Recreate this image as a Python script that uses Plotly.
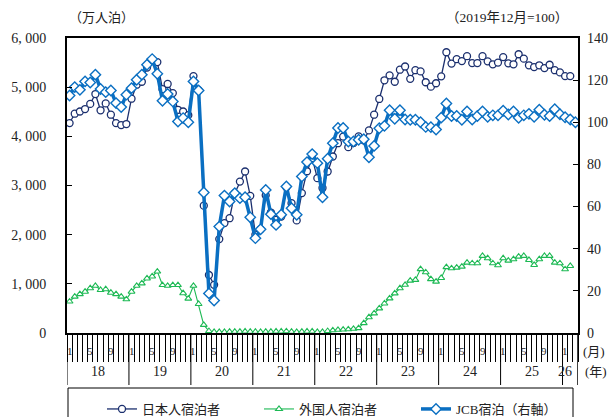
import plotly.graph_objects as go

# ---------------- data ----------------
start_year = 2018
years = ["18", "19", "20", "21", "22", "23", "24", "25", "26"]
month_labels = ["1", "5", "9"]

# 日本人宿泊者 (万人泊), 2018-01 .. 2026-02
jp = [4270, 4460, 4505, 4555, 4660, 4860, 4530, 4670, 4440, 4270, 4230, 4250,
      4765, 5050, 5110, 5400, 5550, 5510, 4960, 5065, 4880, 4540, 4505, 4430,
      5225, 4940, 2590, 1180, 980, 1910, 2235, 2335, 2845, 3080, 3285, 2790,
      2000, 2110, 2800, 2450, 2300, 2370, 2965, 2640, 2290, 2845, 3290, 3555,
      3150, 2950, 3285, 3590, 3860, 3995, 3780, 3865, 4000, 3920, 4120, 4440,
      4760, 5140, 5240, 5110, 5355, 5420, 5170, 5345, 5320, 5100, 5010, 5080,
      5220, 5710, 5480, 5570, 5530, 5630, 5490, 5490, 5630, 5525, 5465, 5500,
      5612, 5485, 5465, 5670, 5580, 5445, 5408, 5445, 5388, 5456, 5345, 5300,
      5225, 5225]

# 外国人宿泊者 (万人泊), 2018-01 .. 2026-02
fr = [640, 740, 790, 840, 910, 960, 875, 890, 820, 790, 740, 685,
      840, 960, 1010, 1110, 1150, 1250, 975, 960, 975, 975, 810, 700,
      960, 590, 165, 40, 20, 20, 20, 25, 25, 25, 30, 25,
      25, 20, 25, 25, 30, 30, 35, 25, 20, 25, 30, 30,
      20, 20, 40, 55, 65, 70, 75, 85, 100, 200, 320, 400,
      500, 600, 705, 805, 910, 980, 1065, 1080, 1300, 1235, 1095, 1045,
      1120, 1340, 1316, 1330, 1350, 1432, 1418, 1418, 1568, 1520, 1418, 1378,
      1520, 1473, 1500, 1554, 1568, 1486, 1384, 1500, 1568, 1568, 1432, 1418,
      1296, 1364]

# JCB宿泊 (2019年12月=100), 2018-01 .. 2026-03
jcb = [112.7, 116.7, 115.4, 119.4, 118.9, 122.6, 115.8, 114.3, 115.1, 109.1, 107.2, 113.1,
       116.2, 120.2, 122.6, 127.3, 130.0, 123.0, 110.2, 113.4, 109.9, 100.4, 102.0, 100.0,
       119.4, 115.1, 66.7, 18.8, 15.4, 50.5, 65.2, 62.4, 66.3, 64.0, 64.4, 54.9,
       45.0, 49.2, 67.9, 56.4, 51.3, 56.1, 69.5, 59.2, 56.1, 74.3, 81.1, 84.9,
       80.6, 64.4, 82.7, 90.1, 97.3, 97.3, 90.9, 90.9, 91.7, 92.0, 83.4, 88.8,
       97.2, 98.3, 105.7, 101.7, 105.7, 101.3, 101.2, 101.2, 100.0, 97.8, 97.7, 96.6,
       102.2, 108.9, 103.0, 103.0, 101.2, 105.1, 101.3, 103.0, 105.1, 102.6, 103.3, 103.3,
       105.5, 103.7, 105.1, 102.1, 103.3, 104.0, 102.6, 106.0, 103.6, 103.0, 106.2, 103.8,
       102.4, 101.3, 100.0]

left_ticks = [0, 1000, 2000, 3000, 4000, 5000, 6000]
left_ticktext = ["0", "1, 000", "2, 000", "3, 000", "4, 000", "5, 000", "6, 000"]
right_ticks = [0, 20, 40, 60, 80, 100, 120, 140]

names = ["日本人宿泊者", "外国人宿泊者", "JCB宿泊（右軸）"]

# ---------------- layout helpers ----------------
N_SLOTS = 99  # 2018-01 .. 2026-03
FONT = "Liberation Serif, Noto Sans CJK JP, serif"

NAVY = "#1b2f6e"
GREEN = "#1db954"
BLUE = "#0a6fc2"

def xs(n):
    return [i + 0.5 for i in range(n)]

fig = go.Figure()
fig.add_trace(go.Scatter(
    x=xs(len(jp)), y=jp, name=names[0], mode="lines+markers",
    line=dict(color=NAVY, width=1.3),
    marker=dict(symbol="circle", size=7, color="white", line=dict(color=NAVY, width=1.3)),
))
fig.add_trace(go.Scatter(
    x=xs(len(fr)), y=fr, name=names[1], mode="lines+markers",
    line=dict(color=GREEN, width=1.1),
    marker=dict(symbol="triangle-up", size=6, color="white", line=dict(color=GREEN, width=1.1)),
))
fig.add_trace(go.Scatter(
    x=xs(len(jcb)), y=jcb, name=names[2], mode="lines+markers", yaxis="y2",
    line=dict(color=BLUE, width=3.5),
    marker=dict(symbol="diamond", size=8, color="white", line=dict(color=BLUE, width=1.4)),
))

plot_h = 295.0
plot_w = 511.0

shapes = []
# year separators extending below axis
for i in range(0, 97, 12):
    shapes.append(dict(type="line", xref="x", yref="paper", x0=i, x1=i,
                       y0=0, y1=-52 / plot_h, line=dict(color="black", width=1)))
shapes.append(dict(type="line", xref="x", yref="paper", x0=N_SLOTS, x1=N_SLOTS,
                   y0=0, y1=-52 / plot_h, line=dict(color="black", width=1.5)))
# legend box
shapes.append(dict(type="rect", xref="paper", yref="paper",
                   x0=1 / plot_w, x1=506 / plot_w, y0=-55 / plot_h, y1=-95 / plot_h,
                   line=dict(color="black", width=1), fillcolor="rgba(0,0,0,0)"))

annotations = []
# month labels
for y_i in range(9):
    for ml in month_labels:
        idx = y_i * 12 + int(ml) - 1
        if idx >= N_SLOTS:
            continue
        annotations.append(dict(x=idx + 0.5, y=-18 / plot_h, xref="x", yref="paper",
                                text=ml, showarrow=False, xanchor="center", yanchor="middle",
                                font=dict(size=11, family=FONT, color="#222")))
# year labels
for y_i, yl in enumerate(years):
    cx = y_i * 12 + 6 if y_i < 8 else 96.5
    annotations.append(dict(x=cx, y=-38 / plot_h, xref="x", yref="paper",
                            text=yl, showarrow=False, xanchor="center", yanchor="middle",
                            font=dict(size=14, family=FONT, color="#222")))
annotations += [
    dict(x=1.0 + 3 / plot_w, y=-18 / plot_h, xref="paper", yref="paper", text="(月)",
         showarrow=False, xanchor="left", yanchor="middle", font=dict(size=13, family=FONT, color="#222")),
    dict(x=1.0 + 5 / plot_w, y=-38 / plot_h, xref="paper", yref="paper", text="(年)",
         showarrow=False, xanchor="left", yanchor="middle", font=dict(size=13, family=FONT, color="#222")),
    dict(x=0.0, y=1 + 21 / plot_h, xref="paper", yref="paper", text="（万人泊）",
         showarrow=False, xanchor="left", yanchor="middle", font=dict(size=13, family=FONT, color="#222")),
    dict(x=1.0 - 8 / plot_w, y=1 + 20 / plot_h, xref="paper", yref="paper", text="（2019年12月=100）",
         showarrow=False, xanchor="right", yanchor="middle", font=dict(size=13.5, family=FONT, color="#222")),
]

fig.update_layout(
    width=609, height=417,
    margin=dict(l=67, r=31, t=38, b=84, pad=0, autoexpand=False),
    paper_bgcolor="white", plot_bgcolor="white",
    font=dict(family=FONT, size=14, color="#222"),
    showlegend=True,
    legend=dict(orientation="h", x=35 / plot_w, y=-61 / plot_h, xanchor="left", yanchor="top",
                font=dict(size=13, family=FONT, color="#222"), entrywidth=112,
                bgcolor="rgba(0,0,0,0)", borderwidth=0, itemwidth=30,
                tracegroupgap=0),
    xaxis=dict(range=[0, N_SLOTS], tickvals=list(range(0, N_SLOTS + 1)), ticks="outside",
               ticklen=27, tickwidth=1, tickcolor="black", showticklabels=False,
               showline=True, linewidth=2, linecolor="black", mirror=True,
               showgrid=False, zeroline=False, fixedrange=True),
    yaxis=dict(range=[0, 6000], tickvals=left_ticks, ticktext=left_ticktext, ticks="inside",
               ticklen=5, tickcolor="black", showline=True, linewidth=2, linecolor="black",
               mirror=True, showgrid=False, zeroline=False, ticklabelstandoff=16,
               tickfont=dict(size=14, family=FONT, color="#222")),
    yaxis2=dict(range=[0, 140], tickvals=right_ticks, overlaying="y", side="right",
                ticks="inside", ticklen=5, tickcolor="black", showline=False,
                showgrid=False, zeroline=False, ticklabelstandoff=8,
                tickfont=dict(size=14, family=FONT, color="#222")),
    shapes=shapes,
    annotations=annotations,
)

fig.write_html("out.html", config={"displayModeBar": False},
               post_script="document.body.style.margin='0';document.body.style.overflow='hidden';")
